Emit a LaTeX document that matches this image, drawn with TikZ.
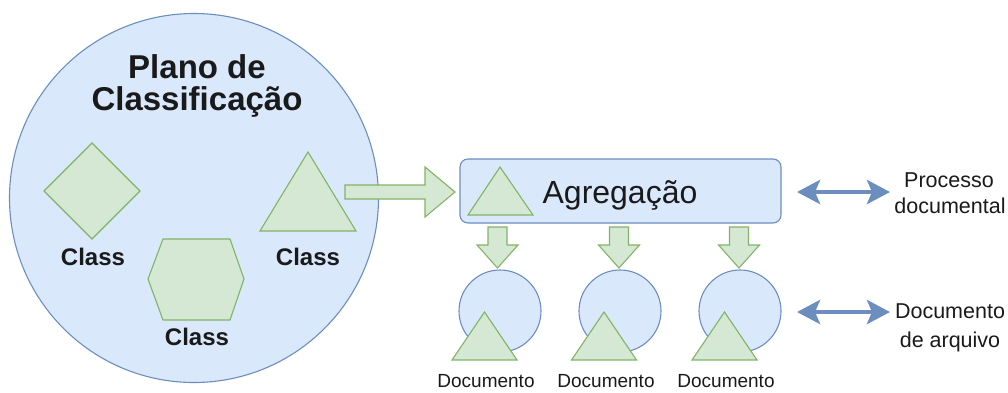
\documentclass[tikz,border=0pt]{standalone}
\usepackage{fontspec}
\setmainfont{Liberation Sans}
\usetikzlibrary{arrows.meta}
\definecolor{bluefill}{HTML}{DAE8FC}
\definecolor{bluedraw}{HTML}{6C8EBF}
\definecolor{greenfill}{HTML}{D5E8D4}
\definecolor{greendraw}{HTML}{82B366}
\definecolor{txt}{HTML}{1A1A1A}
\newcommand\fs[1]{\fontsize{#1}{#1}\selectfont}
\tikzset{
  bluebox/.style={draw=bluedraw, fill=bluefill, line width=1.1pt},
  greenshape/.style={draw=greendraw, fill=greenfill, line width=1.1pt, line join=miter},
  label/.style={inner sep=0pt, text=txt},
  dblarrow/.style={draw=bluedraw, line width=4.5pt,
    {Stealth[length=23pt,width=24pt,inset=5pt]}-{Stealth[length=23pt,width=24pt,inset=5pt]}},
}
\newcommand\downblock[1]{%
  \draw[greenshape, shift={(#1,0)}] (-9.5,227) -- (9.5,227) -- (9.5,245) -- (20.5,245)
    -- (0,268) -- (-20.5,245) -- (-9.5,245) -- cycle;}
\newcommand\doctri[1]{%
  \draw[greenshape, shift={(#1,0)}] (0,312) -- (32.5,360) -- (-32.5,360) -- cycle;}
\begin{document}
\begin{tikzpicture}[x=1pt, y=-1pt]
\useasboundingbox (0,0) rectangle (1008,392);

% classification plan
\node[bluebox, circle, minimum size=369pt, inner sep=0pt] (plan) at (194,198) {};
\node[label, anchor=base, font=\bfseries\fs{33}] (title1) at (197,78) {Plano de};
\node[label, anchor=base, font=\bfseries\fs{33}] (title2) at (197,110) {Classificação};

% classes inside the plan
\draw[greenshape] (92,143) -- (140,191) -- (92,239) -- (44,191) -- cycle;
\node[label, anchor=base, font=\bfseries\fs{24}] (c1) at (93,265) {Class};
\draw[greenshape] (163,239) -- (230,239) -- (244,279) -- (230,320) -- (163,320) -- (148,279) -- cycle;
\node[label, anchor=base, font=\bfseries\fs{24}] (c2) at (197,345) {Class};
\draw[greenshape] (308,152) -- (356,231) -- (260,231) -- cycle;
\node[label, anchor=base, font=\bfseries\fs{24}] (c3) at (308,265) {Class};

% block arrow into the aggregation
\draw[greenshape] (345,185) -- (425,185) -- (425,167) -- (455,192) -- (425,217)
  -- (425,199) -- (345,199) -- cycle;

% aggregation
\node[bluebox, rectangle, rounded corners=8pt, minimum width=321pt, minimum height=64pt,
  inner sep=0pt] (agg) at (620.5,191) {};
\draw[greenshape] (500,167) -- (533,215) -- (468,215) -- cycle;
\node[label, anchor=base, font=\fs{32}] (aggtext) at (620,203) {Agregação};

% documents
\downblock{497.5}
\downblock{619}
\downblock{739}
\node[bluebox, circle, minimum size=82pt, inner sep=0pt] (d1) at (500,311) {};
\node[bluebox, circle, minimum size=82pt, inner sep=0pt] (d2) at (620,311) {};
\node[bluebox, circle, minimum size=82pt, inner sep=0pt] (d3) at (740,311) {};
\doctri{484.5}
\doctri{604}
\doctri{724.5}
\node[label, anchor=base, font=\fs{19}] (l1) at (486,387.5) {Documento};
\node[label, anchor=base, font=\fs{19}] (l2) at (606,387.5) {Documento};
\node[label, anchor=base, font=\fs{19}] (l3) at (726,387.5) {Documento};

% levels on the right
\coordinate (a1) at (797,192);
\coordinate (b1) at (890,192);
\coordinate (a2) at (797,312);
\coordinate (b2) at (890,312);
\draw[dblarrow] (a1) -- (b1);
\draw[dblarrow] (a2) -- (b2);
\node[label, anchor=base, font=\fs{21.5}] (p1) at (949,187) {Processo};
\node[label, anchor=base, font=\fs{21.5}] (p2) at (950,213) {documental};
\node[label, anchor=base, font=\fs{21.5}] (q1) at (950,318) {Documento};
\node[label, anchor=base, font=\fs{21.5}] (q2) at (950,347) {de arquivo};
\end{tikzpicture}
\end{document}
